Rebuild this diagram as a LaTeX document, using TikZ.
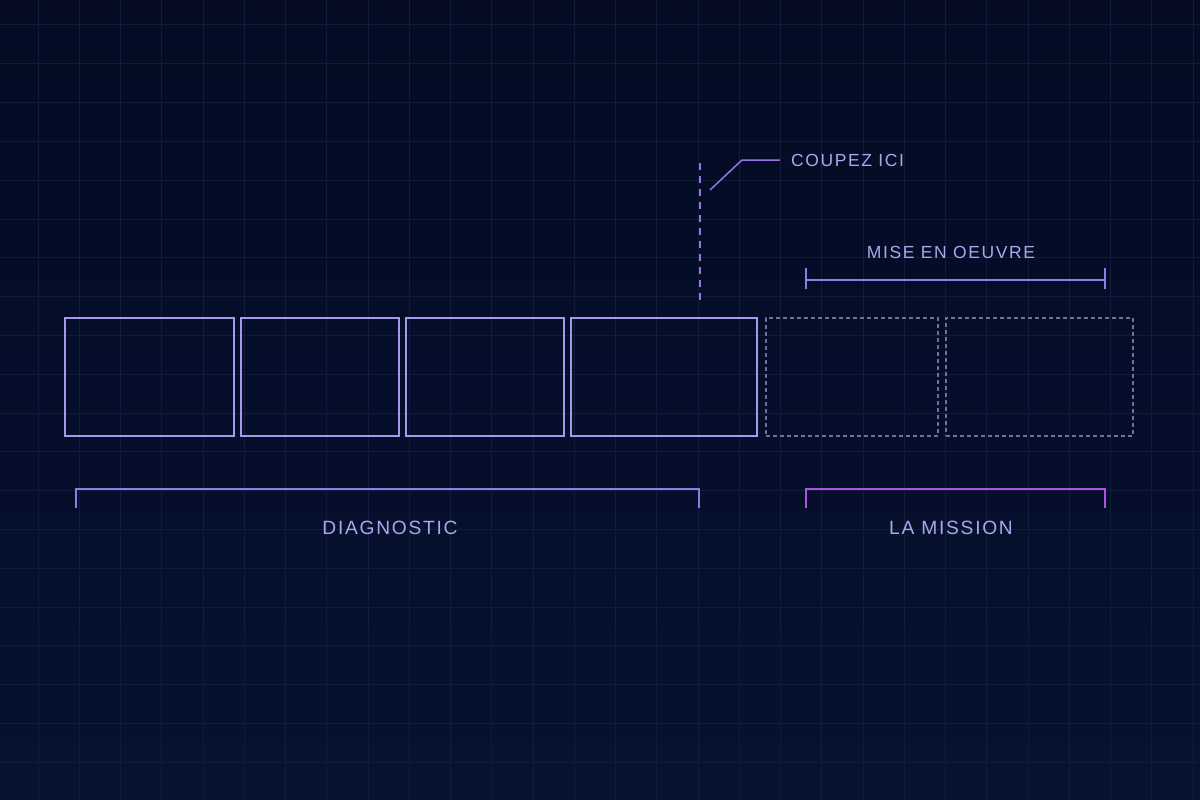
\documentclass[tikz,border=0pt]{standalone}
\usepackage{fontspec}
\usepackage{xcolor}
\usetikzlibrary{positioning}
\newfontfamily\capsfont{Liberation Sans}[LetterSpace=9]
\definecolor{navy}{RGB}{4,11,35}
\definecolor{navylo}{RGB}{5,18,50}
\definecolor{gridc}{RGB}{17,27,58}
\definecolor{lav}{RGB}{166,152,236}
\definecolor{lavtxt}{RGB}{172,166,238}
\definecolor{cutc}{RGB}{150,116,226}
\definecolor{ghost}{RGB}{108,114,160}
\definecolor{diagc}{RGB}{140,126,226}
\definecolor{missc}{RGB}{176,82,226}

\begin{document}
\begin{tikzpicture}[x=1pt,y=-1pt,
    cell/.style={draw=lav,line width=2pt,minimum height=118pt,
                 inner sep=0pt,outer sep=0pt},
    ghostcell/.style={draw=ghost,line width=1.2pt,dash pattern=on 4pt off 3pt,
                      minimum height=118pt,inner sep=0pt,outer sep=0pt},
    caps/.style={font=\capsfont\fontsize{17.5}{20}\selectfont,text=lavtxt,
                 inner sep=0pt},
    bigcaps/.style={caps,font=\capsfont\fontsize{19.2}{22}\selectfont},
    bracket/.style={line width=2pt}]
    % background and grid
    \shade[top color=navy,bottom color=navylo] (0,0) rectangle (1200,800);
    \useasboundingbox (0,0) rectangle (1200,800);
    \foreach \i in {0,...,28}
      \draw[gridc,line width=1pt] (38+41.25*\i,0) -- (38+41.25*\i,800);
    \foreach \j in {0,...,19}
      \draw[gridc,line width=1pt] (0,25+38.8*\j) -- (1200,25+38.8*\j);
    % diagnostic cells
    \node[cell,minimum width=169pt] (d1) at (149.5,377) {};
    \node[cell,minimum width=158pt] (d2) at (320,377)   {};
    \node[cell,minimum width=158pt] (d3) at (485,377)   {};
    \node[cell,minimum width=186pt] (d4) at (664,377)   {};
    % mission cells
    \node[ghostcell,minimum width=172pt] (m1) at (852,377)    {};
    \node[ghostcell,minimum width=187pt] (m2) at (1039.5,377) {};
    % cut line
    \coordinate (cuttop) at (700,163);
    \coordinate (cutbot) at (700,305);
    \draw[cutc,line width=2pt,dash pattern=on 7pt off 6pt] (cuttop) -- (cutbot);
    \node[caps,anchor=west] (cut) at (791,160) {COUPEZ ICI};
    \draw[cutc,line width=1.5pt] (710,190) -- (742,160) -- ([xshift=-11pt]cut.west);
    % mise en oeuvre
    \node[caps] (meo) at (951,252) {MISE EN OEUVRE};
    \coordinate (meoL) at (806,280);
    \coordinate (meoR) at (1105,280);
    \draw[bracket,diagc] (meoL) -- (meoR);
    \draw[bracket,diagc] ([yshift=-9pt]meoL) -- ([yshift=12pt]meoL);
    \draw[bracket,diagc] ([yshift=-9pt]meoR) -- ([yshift=12pt]meoR);
    % brackets below
    \coordinate (dgL) at (76,489);
    \coordinate (dgR) at (699,489);
    \draw[bracket,diagc] ([yshift=-19pt]dgL) -- (dgL) -- (dgR) -- ([yshift=-19pt]dgR);
    \node[bigcaps] (dg) at (390,528) {DIAGNOSTIC};
    \coordinate (msL) at (806,489);
    \coordinate (msR) at (1105,489);
    \draw[bracket,missc] ([yshift=-19pt]msL) -- (msL) -- (msR) -- ([yshift=-19pt]msR);
    \node[bigcaps] (ms) at (951,528) {LA MISSION};
\end{tikzpicture}
\end{document}
